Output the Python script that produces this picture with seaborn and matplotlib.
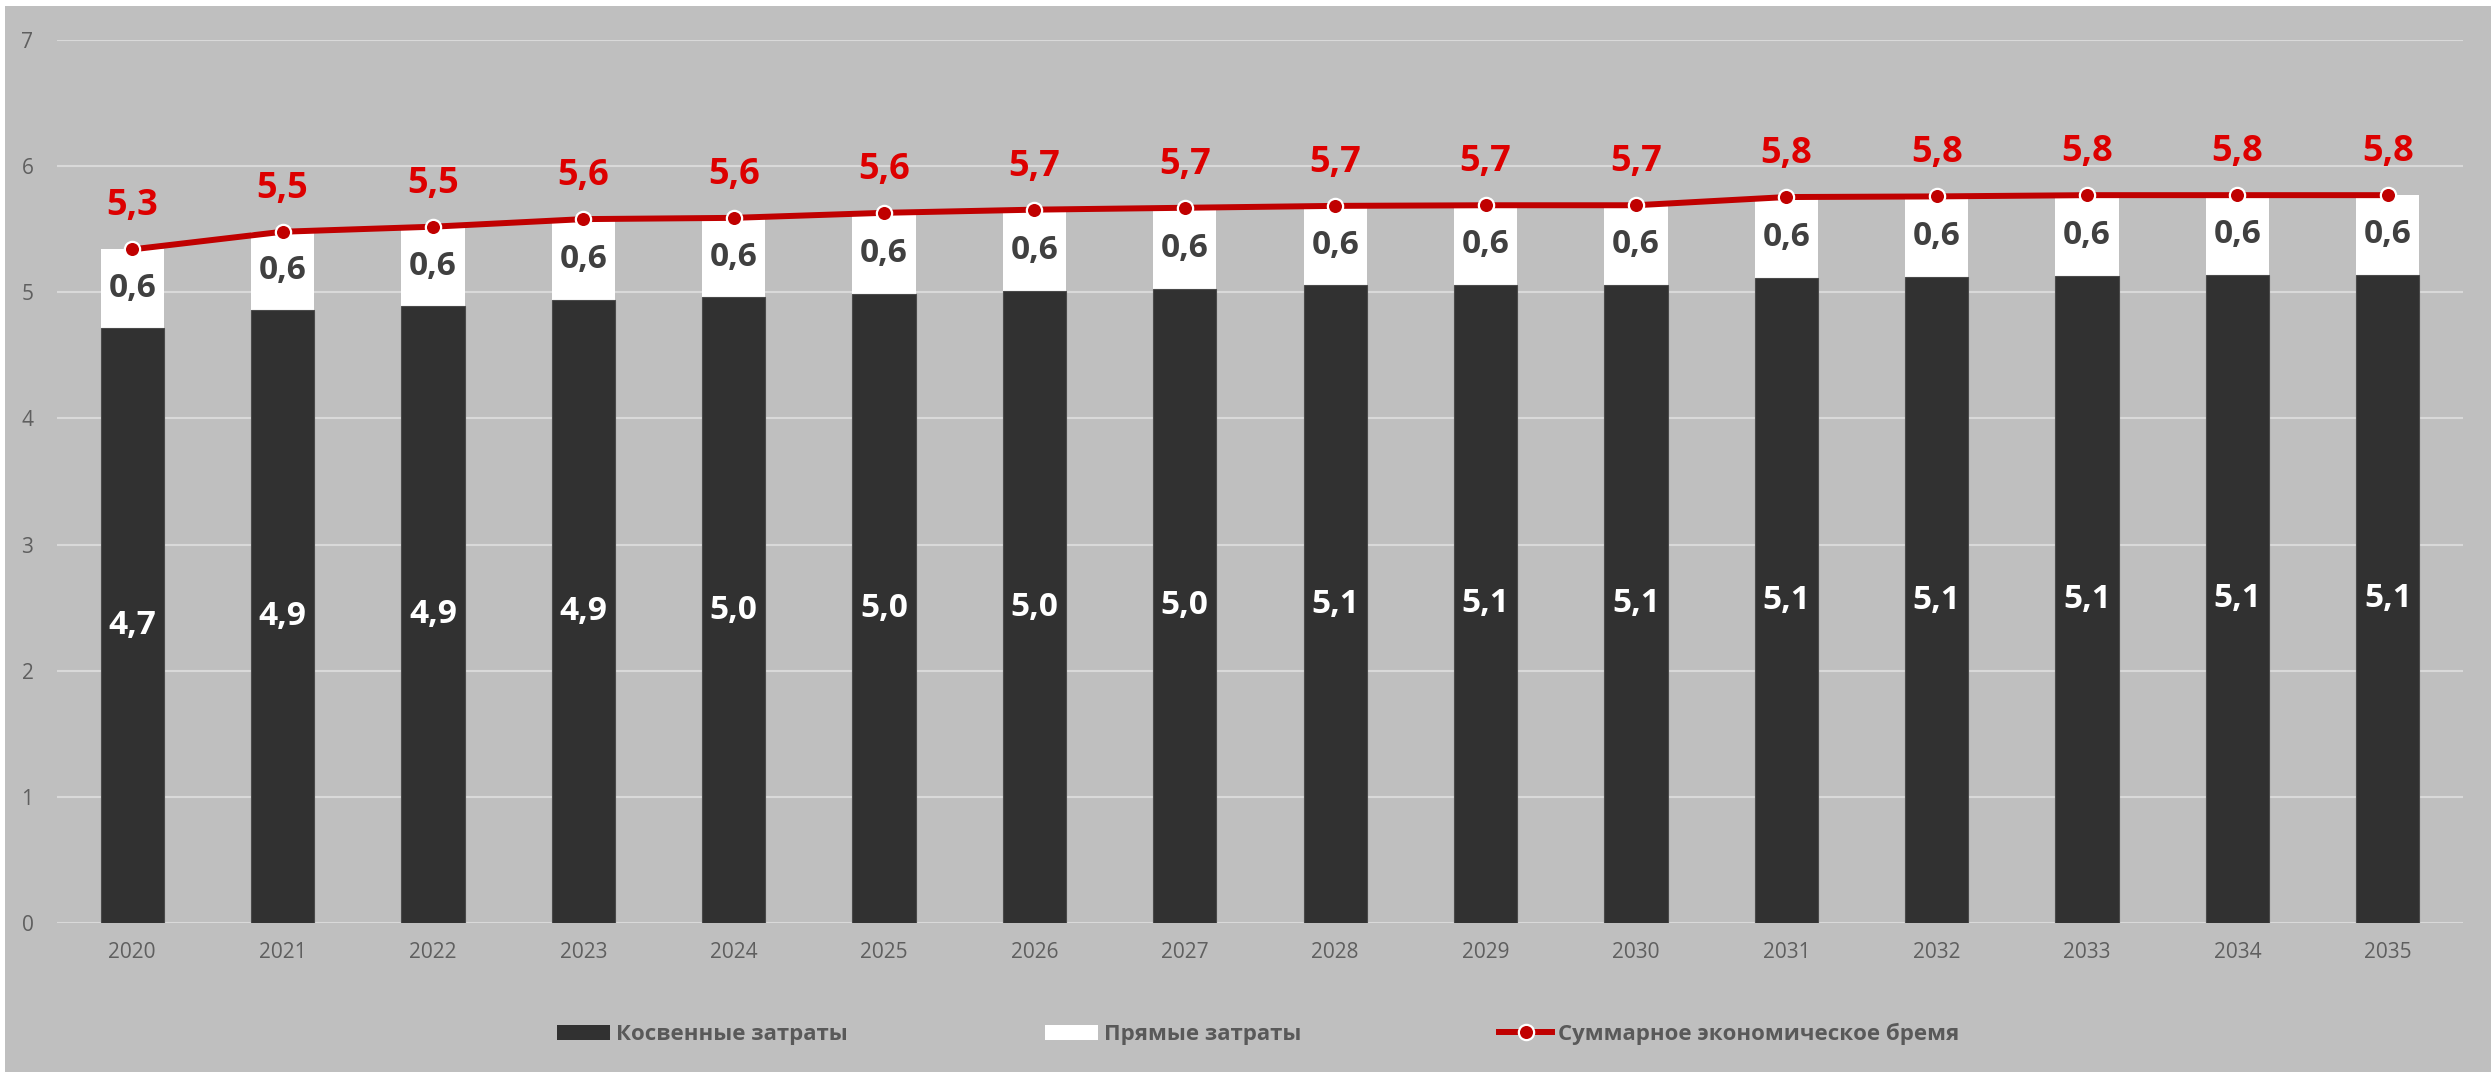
import numpy as np
import pandas as pd
import matplotlib
matplotlib.use("Agg")
import matplotlib.pyplot as plt
import seaborn as sns
from matplotlib.lines import Line2D
from matplotlib.patches import Patch, Rectangle

# Economic burden forecast, 2020-2035
years = ["2020", "2021", "2022", "2023", "2024", "2025", "2026", "2027",
         "2028", "2029", "2030", "2031", "2032", "2033", "2034", "2035"]
indirect_costs = [4.72, 4.86, 4.89, 4.94, 4.96, 4.99, 5.01, 5.03,
                  5.055, 5.06, 5.06, 5.11, 5.12, 5.13, 5.14, 5.14]
direct_costs = [0.62, 0.62, 0.63, 0.64, 0.63, 0.64, 0.645, 0.64,
                0.63, 0.63, 0.63, 0.645, 0.64, 0.64, 0.63, 0.63]
legend_labels = ["Косвенные затраты", "Прямые затраты",
                 "Суммарное экономическое бремя"]

DARK = "#313131"
RED_LINE = "#C00000"
RED_TEXT = "#DD0000"
GREY_BG = "#BFBFBF"
TICK_GREY = "#5F5F5F"

plt.rcParams["font.family"] = ["Open Sans", "DejaVu Sans"]

df = pd.DataFrame({"year": years,
                   "indirect": indirect_costs,
                   "direct": direct_costs})
df["total"] = df["indirect"] + df["direct"]


def fmt(v):
    return f"{v:.1f}".replace(".", ",")


W, H = 2491, 1072
fig = plt.figure(figsize=(W / 100, H / 100), dpi=100)
fig.patch.set_facecolor("white")
fig.add_artist(Rectangle((5 / W, 0), 1, 1 - 6 / H, transform=fig.transFigure,
                         facecolor=GREY_BG, edgecolor="none", zorder=-10))

ax = fig.add_axes([57 / W, 1 - 923 / H, (2463 - 57) / W, (923 - 40) / H])
ax.set_facecolor("none")

# Stacked bars: full height in white, indirect part drawn over it in dark grey
sns.barplot(data=df, x="year", y="total", color="white", width=0.42,
            saturation=1, ax=ax, zorder=2, edgecolor="white", linewidth=0)
sns.barplot(data=df, x="year", y="indirect", color=DARK, width=0.42,
            saturation=1, ax=ax, zorder=3, edgecolor="#4a4a4a", linewidth=0.8)

pos = np.arange(len(df))
sns.lineplot(x=pos, y=df["total"].to_numpy(), ax=ax, color=RED_LINE,
             linewidth=4.3, marker="o", markersize=11, markeredgecolor="white",
             markeredgewidth=1.6, zorder=5, legend=False)

for i, row in df.iterrows():
    ax.text(i, row["indirect"] / 2, fmt(row["indirect"]), ha="center",
            va="center", color="white", fontsize=24, fontweight="bold", zorder=6)
    ax.text(i, row["indirect"] + row["direct"] / 2, fmt(row["direct"]),
            ha="center", va="center", color="#404040", fontsize=24,
            fontweight="bold", zorder=6)
    ax.annotate(fmt(row["total"]), (i, row["total"]), xytext=(0, 31),
                textcoords="offset points", ha="center", va="center",
                color=RED_TEXT, fontsize=26, fontweight="bold", zorder=6)

ax.set_xlim(-0.5, len(df) - 0.5)
ax.set_ylim(0, 7)
ax.set_yticks(range(0, 8))
ax.set_xlabel("")
ax.set_ylabel("")
ax.yaxis.grid(True, color="#D9D9D9", linewidth=1.5)
ax.xaxis.grid(False)
ax.set_axisbelow(True)
for s in ax.spines.values():
    s.set_visible(False)
ax.tick_params(axis="both", length=0, labelsize=15, labelcolor=TICK_GREY)
ax.tick_params(axis="y", pad=17)
ax.tick_params(axis="x", pad=14)

handles = [
    Patch(facecolor=DARK, edgecolor="none"),
    Patch(facecolor="white", edgecolor="none"),
    Line2D([], [], color=RED_LINE, linewidth=4.3, marker="o", markersize=11,
           markeredgecolor="white", markeredgewidth=1.6),
]
fig.legend(handles, legend_labels, loc="center", bbox_to_anchor=(0.505, 1 - 1034 / H),
           ncol=3, frameon=False, handlelength=2.4, handleheight=0.7,
           handletextpad=0.25, columnspacing=8.9, labelcolor="#595959",
           prop={"size": 16, "weight": "bold"})

fig.savefig("out.png", dpi=100, facecolor=fig.get_facecolor())
